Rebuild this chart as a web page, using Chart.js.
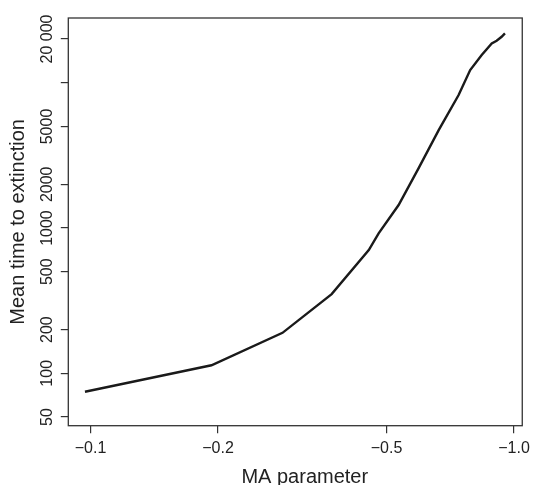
<!DOCTYPE html>
<html>
<head>
<meta charset="utf-8">
<script src="https://cdn.jsdelivr.net/npm/chart.js@4/dist/chart.umd.min.js"></script>
<style>
  html, body { margin: 0; padding: 0; background: #fff; }
  #wrap { width: 536px; height: 485px; position: relative; }
</style>
</head>
<body>
<div id="wrap"><canvas id="c" width="536" height="485"></canvas></div>
<script>
// MA parameter (x) and mean time to extinction (y)
const maParameter = [-0.097, -0.193, -0.284, -0.371, -0.454, -0.479, -0.534, -0.595, -0.664, -0.740, -0.788, -0.839, -0.886, -0.910, -0.935, -0.952];
const meanTime    = [74.7, 113.6, 190, 351, 705, 919, 1439, 2574, 4723, 8226, 12223, 15502, 18660, 19450, 20720, 21870];

const xTickValues = [0.1, 0.2, 0.5, 1.0];
const xTickLabels = ['\u22120.1', '\u22120.2', '\u22120.5', '\u22121.0'];
const yTickValues = [50, 100, 200, 500, 1000, 2000, 5000, 10000, 20000];
const yTickLabels = ['50', '100', '200', '500', '1000', '2000', '5000', '', '20 000'];

const xTitle = 'MA parameter';
const yTitle = 'Mean time to extinction';

const FONT = '"Liberation Sans", Arial, Helvetica, sans-serif';
const INK = '#222';

const points = maParameter.map((v, i) => ({ x: -v, y: meanTime[i] }));

const framePlugin = {
  id: 'frame',
  afterDraw(chart) {
    const { ctx, chartArea: a } = chart;
    ctx.save();
    ctx.strokeStyle = '#333';
    ctx.lineWidth = 1.3;
    ctx.strokeRect(a.left, a.top, a.right - a.left, a.bottom - a.top);
    // x-axis title (centred like the original, slightly right of the frame centre)
    ctx.fillStyle = INK;
    ctx.font = '20px ' + FONT;
    ctx.textAlign = 'center';
    ctx.textBaseline = 'alphabetic';
    ctx.fillText(xTitle, (a.left + a.right) / 2 + 9.5, chart.height - 2.3);
    ctx.restore();
  }
};

new Chart(document.getElementById('c'), {
  type: 'line',
  data: {
    datasets: [{
      data: points,
      borderColor: '#1a1a1a',
      borderWidth: 2.4,
      pointRadius: 0,
      tension: 0,
      fill: false
    }]
  },
  options: {
    responsive: false,
    animation: false,
    layout: { padding: { top: 18, right: 12, left: 0, bottom: 0 } },
    plugins: { legend: { display: false }, tooltip: { enabled: false } },
    scales: {
      x: {
        type: 'logarithmic',
        position: 'bottom',
        min: 0.0886,
        max: 1.046,
        afterBuildTicks: (s) => { s.ticks = xTickValues.map(v => ({ value: v })); },
        afterFit: (s) => { s.height = 59.3; },
        ticks: {
          autoSkip: false,
          maxRotation: 0,
          padding: 6,
          color: INK,
          font: { family: FONT, size: 16 },
          callback: (v) => { const i = xTickValues.indexOf(v); return i >= 0 ? xTickLabels[i] : ''; }
        },
        grid: { drawOnChartArea: false, drawTicks: true, tickLength: 7.5, color: '#333', lineWidth: 1.2 },
        border: { display: false },
        title: { display: false, text: xTitle }
      },
      y: {
        type: 'logarithmic',
        position: 'left',
        min: 43.6,
        max: 27900,
        afterBuildTicks: (s) => { s.ticks = yTickValues.map(v => ({ value: v })); },
        afterFit: (s) => { s.width = 68.3; },
        ticks: {
          autoSkip: false,
          minRotation: 90,
          maxRotation: 90,
          crossAlign: 'center',
          padding: -11.45,
          color: INK,
          font: { family: FONT, size: 16 },
          callback: (v) => { const i = yTickValues.indexOf(v); return i >= 0 ? yTickLabels[i] : ''; }
        },
        grid: { drawOnChartArea: false, drawTicks: true, tickLength: 7.5, color: '#333', lineWidth: 1.2 },
        border: { display: false },
        title: { display: true, text: yTitle, color: INK, font: { family: FONT, size: 20 }, padding: { top: 6.3, bottom: 0 } }
      }
    }
  },
  plugins: [framePlugin]
});
</script>
</body>
</html>
